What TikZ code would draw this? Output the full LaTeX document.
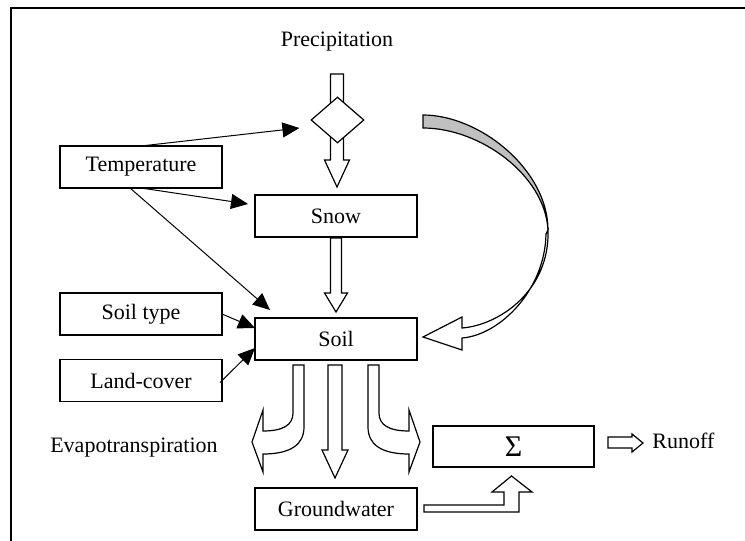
\documentclass[tikz,border=0pt]{standalone}
\usepackage{fontspec}
\setmainfont{Liberation Serif}
\usetikzlibrary{arrows.meta,calc,shapes.geometric}
\definecolor{bandgray}{RGB}{192,192,192}

\begin{document}
\begin{tikzpicture}[
x=0.5pt, y=-0.5pt,
 font=\fontsize{11}{13}\selectfont,
    box/.style = {rectangle, draw, line width=0.7pt,% boxes of the model
                  minimum width=81pt, minimum height=21pt,
                  inner sep=0pt, outer sep=0pt},
    fat/.style = {draw, fill=white, line width=0.6pt},% block arrows
   link/.style = {draw, line width=0.5pt,
                  -{Triangle[length=8.5pt,width=7.5pt]}},
                        ]
\useasboundingbox (0,0) rectangle (745,541);
\draw[line width=1pt] (745,8) -- (11,8) -- (11,541);
% model boxes
\node[box] (temp)      at (141,167)   {Temperature};
\node[box] (soiltype)  at (141,314)   {Soil type};
\node[box] (landcover) at (141,380.5) {Land-cover};
\node[box] (snow)      at (336,216)   {Snow};
\node[box] (soil)      at (336,339)   {Soil};
\node[box] (gw)        at (336,509)   {Groundwater};
\node[box, minimum width=80.5pt, minimum height=20.5pt] (sum) at (513.5,446.5)
    {\raisebox{-1pt}{\fontsize{15}{17}\selectfont Σ}};
% free texts
\node (prec) at (337,42)  {Precipitation};
\node (evap) at (134,448) {Evapotranspiration};
\node[anchor=west, inner sep=0pt] (runoff) at (652,441) {Runoff};
% precipitation through the split
\path[fat] (330.5,74) -- (343.5,74) -- (343.5,160) -- (349.5,160) -- (337,187)
    -- (324.5,160) -- (330.5,160) -- cycle;
\node[diamond, draw, fill=white, line width=0.6pt, inner sep=0pt,
      minimum width=26.5pt, minimum height=23pt] (gate) at (337.5,120) {};
% snow to soil
\path[fat] (330.5,238) -- (341.5,238) -- (341.5,293) -- (347.5,293) -- (336,312)
    -- (324.5,293) -- (330.5,293) -- cycle;
% soil to groundwater
\path[fat] (328,365) -- (342,365) -- (342,450) -- (348,450) -- (335,478)
    -- (322,450) -- (328,450) -- cycle;
% evapotranspiration, left and right
\path[fat] (293,365) -- (304,365) -- (304,427) .. controls (304,445) and (290,454) .. (263,454)
    -- (263,472) -- (252,442) -- (263,410) -- (263,431)
    .. controls (283,431) and (293,425) .. (293,413) -- cycle;
\path[fat] (379,365) -- (368,365) -- (368,427) .. controls (368,445) and (382,454) .. (409,454)
    -- (409,472) -- (420,442) -- (409,410) -- (409,431)
    .. controls (389,431) and (379,425) .. (379,413) -- cycle;
% groundwater to sum
\path[fat] (424,505) -- (504,505) -- (504,492) -- (492,492) -- (511.5,476)
    -- (532,492) -- (519,492) -- (519,512) -- (424,512) -- cycle;
% sum to runoff
\path[fat] (608,437) -- (632,437) -- (632,434) -- (643,443) -- (632,452)
    -- (632,448) -- (608,448) -- cycle;
% rain bypassing snow
\path[fat, fill=bandgray] (423,115) .. controls (480,115) and (548,170) .. (548,230)
    .. controls (545,175) and (480,128) .. (423,128) -- cycle;
\path[fat] (548,230) .. controls (550,290) and (500,325) .. (462,328)
    -- (462,317) -- (423,337) -- (462,350) -- (462,338)
    .. controls (500,335) and (545,290) .. (546,234) -- cycle;
% driving variables
\draw[link] (temp.north) -- ($(gate.west)+(-11,8)$);
\draw[link] (temp.south) -- ($(snow.west)+(-7,-12)$);
\draw[link] ($(temp.south)+(-11,0)$) -- ($(soil.north west)+(15,-8)$);
\draw[link] (soiltype.east) -- ($(soil.west)+(0,-11)$);
\draw[link] ($(landcover.east)+(-2,2)$) -- ($(soil.west)+(0,9)$);
\end{tikzpicture}
\end{document}
